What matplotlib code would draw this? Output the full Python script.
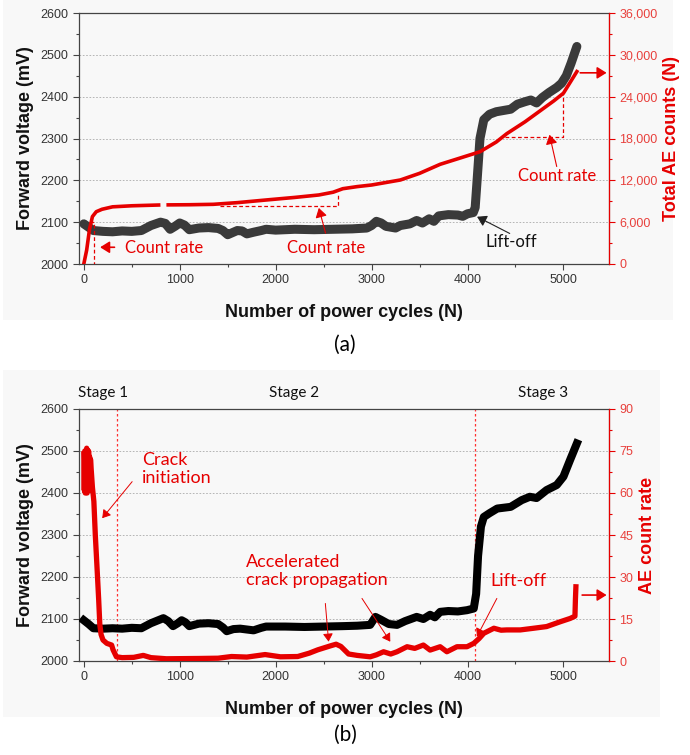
import numpy as np
import matplotlib
matplotlib.use('Agg')
import matplotlib.pyplot as plt
from matplotlib.patches import Rectangle
from matplotlib.ticker import MultipleLocator, FuncFormatter

plt.rcParams['font.family'] = ['Liberation Sans', 'DejaVu Sans']

##################
## data

# (a) forward voltage (mV) vs power cycles
cyc_vf_a = [0, 50, 100, 200, 300, 400, 500, 600, 700, 800, 850, 900, 950, 1000, 1050,
            1100, 1200, 1300, 1400, 1450, 1500, 1550, 1600, 1650, 1700, 1770, 1850, 1900,
            2000, 2200, 2400, 2600, 2800, 2950, 3000, 3050, 3100, 3150, 3250, 3300, 3400,
            3470, 3530, 3600, 3650, 3700, 3800, 3900, 3950, 4000, 4060, 4080, 4100, 4130,
            4170, 4230, 4300, 4400, 4450, 4520, 4600, 4660, 4720, 4780, 4850, 4930, 4980,
            5030, 5080, 5140]
vf_a = [2096, 2088, 2080, 2078, 2077, 2079, 2078, 2080, 2092, 2100, 2097, 2083, 2090, 2098, 2093,
        2082, 2086, 2087, 2085, 2080, 2070, 2075, 2080, 2079, 2072, 2076, 2080, 2083,
        2081, 2083, 2082, 2083, 2084, 2086, 2092, 2102, 2098, 2090, 2086, 2092, 2096,
        2104, 2098, 2108, 2102, 2115, 2118, 2117, 2114, 2120, 2123, 2135, 2200, 2300,
        2345, 2358, 2364, 2368, 2370, 2382, 2388, 2392, 2385, 2398, 2410, 2422, 2432,
        2450, 2480, 2520]

# (a) total AE counts (nan = gap in the record)
cyc_ae_a = [0, 30, 60, 90, 130, 190, 300, 500, 780, 790, 880, 1100, 1350, 1600, 1900, 2200,
            2450, 2600, 2700, 2850, 3000, 3300, 3500, 3715, 3900, 4130, 4300, 4410, 4600,
            4760, 4900, 5000, 5140]
ae_total = [0, 2000, 5000, 6800, 7500, 7850, 8200, 8350, 8460, np.nan, 8480, 8500, 8560, 8800,
            9180, 9550, 9900, 10300, 10800, 11100, 11330, 12050, 13000, 14300, 15100, 16100,
            17500, 18700, 20400, 22000, 23400, 24500, 27600]

# (b) forward voltage
cyc_vf_b = [0, 50, 100, 200, 300, 400, 500, 600, 700, 830, 880, 930, 980, 1020, 1060, 1100,
            1200, 1300, 1400, 1450, 1490, 1560, 1630, 1700, 1770, 1850, 1900, 2100, 2300,
            2500, 2700, 2850, 2985, 3040, 3100, 3180, 3265, 3350, 3470, 3540, 3610, 3660,
            3715, 3800, 3900, 3995, 4065, 4090, 4110, 4140, 4170, 4230, 4310, 4450, 4565,
            4650, 4720, 4825, 4930, 5000, 5070, 5140]
vf_b = [2097, 2088, 2078, 2077, 2078, 2077, 2079, 2078, 2090, 2102, 2095, 2083, 2090, 2097, 2092,
        2083, 2089, 2090, 2088, 2080, 2071, 2076, 2077, 2075, 2073, 2079, 2082, 2082, 2081,
        2082, 2083, 2084, 2086, 2105, 2098, 2088, 2086, 2095, 2105, 2100, 2110, 2104,
        2117, 2119, 2118, 2121, 2125, 2160, 2250, 2320, 2343, 2352, 2363, 2367, 2383,
        2391, 2388, 2407, 2419, 2439, 2479, 2518]

# (b) AE count rate
cyc_rate_b = [0, 5, 10, 15, 20, 25, 30, 35, 40, 45, 50, 55, 60, 65, 70, 90, 105, 120, 140, 155,
              167, 180, 200, 240, 290, 305, 340, 400, 520, 620, 700, 860, 1200, 1400, 1540,
              1700, 1890, 2050, 2230, 2350, 2440, 2570, 2630, 2680, 2760, 2850, 2985, 3050,
              3125, 3200, 3265, 3370, 3450, 3540, 3610, 3715, 3785, 3890, 3995, 4065, 4120,
              4170, 4275, 4350, 4410, 4550, 4690, 4825, 4965, 5070, 5120, 5125, 5130]
ae_rate = [74, 61, 75, 60, 73, 62, 76, 60, 74, 63, 75, 61, 73, 62, 72, 62, 57, 45, 32, 22,
           13, 9.5, 7.5, 6.3, 5.7, 4, 1.5, 1.2, 1.3, 2.0, 1.2, 0.8, 0.9, 1.0, 1.6,
           1.4, 2.3, 1.5, 1.6, 2.8, 4.0, 5.4, 6.0, 5.2, 2.5, 2.0, 1.5, 2.2,
           3.3, 2.5, 3.3, 5.1, 4.5, 5.7, 3.9, 5.1, 3.3, 5.1, 5.1, 6.3, 8.0,
           9.9, 11.7, 11.0, 11.1, 11.1, 11.7, 12.3, 14.0, 15.2, 16.0, 22, 26.5]

stage_lines = [350, 4080]

red = '#e60000'
tick_red = '#e8403c'
grey = '#333333'
note_font = ['Lato', 'DejaVu Sans']

fig = plt.figure(figsize=(6.9, 7.55), dpi=100)

# light panel backgrounds
fig.patches.append(Rectangle((3/690, 1 - 320/755), 670/690, 320/755, transform=fig.transFigure,
                             facecolor='#f8f8f8', edgecolor='none', zorder=-10))
fig.patches.append(Rectangle((3/690, 1 - 717/755), 657/690, 347/755, transform=fig.transFigure,
                             facecolor='#f8f8f8', edgecolor='none', zorder=-10))


def setup(ax, ax2, rlabel, rmax, rstep, fmt):
    ax.set_facecolor('none')
    ax.set_xlim(-50, 5475)
    ax.set_ylim(2000, 2600)
    ax.xaxis.set_major_locator(MultipleLocator(1000))
    ax.xaxis.set_minor_locator(MultipleLocator(500))
    ax.yaxis.set_major_locator(MultipleLocator(100))
    ax.yaxis.set_minor_locator(MultipleLocator(50))
    ax.tick_params(which='both', direction='out', colors='#444444', labelcolor=grey,
                   labelsize=9, width=0.8)
    ax.tick_params(which='major', length=4)
    ax.tick_params(which='minor', length=2.5)
    for y in range(2100, 2600, 100):
        ax.axhline(y, color='#aaaaaa', lw=0.6, ls=(0, (2, 2)), zorder=0)
    for s in ['left', 'bottom', 'top']:
        ax.spines[s].set_color('#444444')
        ax.spines[s].set_linewidth(0.9)
    ax.set_xlabel('Number of power cycles (N)', fontsize=13, fontweight='bold',
                  color='#111111', labelpad=13)
    ax.set_ylabel('Forward voltage (mV)', fontsize=13, fontweight='bold',
                  color='#111111', labelpad=5)

    ax2.set_ylim(0, rmax)
    ax2.yaxis.set_major_locator(MultipleLocator(rstep))
    ax2.yaxis.set_minor_locator(MultipleLocator(rstep / 2))
    ax2.yaxis.set_major_formatter(FuncFormatter(fmt))
    ax2.tick_params(which='both', direction='out', colors=red, labelcolor=tick_red,
                    labelsize=9, width=0.8)
    ax2.tick_params(which='major', length=4)
    ax2.tick_params(which='minor', length=2.5)
    ax2.spines['right'].set_color(red)
    ax2.spines['right'].set_linewidth(0.9)
    for s in ['left', 'bottom', 'top']:
        ax2.spines[s].set_visible(False)
    ax2.set_ylabel(rlabel, fontsize=13, fontweight='bold', color=red, labelpad=4)


def arrow(ax, start, end, color, lw=0.8, head=0.3):
    ax.annotate('', xy=end, xytext=start,
                arrowprops=dict(arrowstyle='-|>,head_length=%.2f,head_width=%.2f' % (head * 1.6, head),
                                color=color, lw=lw, shrinkA=0, shrinkB=0))


###################
## (a)
ax1 = fig.add_axes([79/690, 1 - 264/755, 530/690, 251/755])
ax1r = ax1.twinx()
setup(ax1, ax1r, 'Total AE counts (N)', 36000, 6000, lambda v, p: '{:,.0f}'.format(v))

ax1.plot(cyc_vf_a, vf_a, color='#3a3a3a', lw=6.5, solid_joinstyle='round',
         solid_capstyle='round', zorder=3)
ax1r.plot(cyc_ae_a, ae_total, color=red, lw=2.6, zorder=2)

ax1.plot([60, 104, 104], [2101, 2101, 2000], color=red, lw=0.9, ls=(0, (3, 2)), zorder=4)
ax1.plot([1425, 2655, 2655], [2139.5, 2139.5, 2165], color=red, lw=0.9, ls=(0, (3, 2)), zorder=4)
ax1.plot([4390, 5000, 5000], [2303, 2303, 2408], color=red, lw=0.9, ls=(0, (3, 2)), zorder=4)

arrow(ax1, (320, 2040), (170, 2040), red, lw=1.2, head=0.35)
ax1.text(425, 2038, 'Count rate', color=red, fontsize=12, family=note_font, va='center', ha='left')
arrow(ax1, (2520, 2074), (2450, 2134), red, lw=0.8, head=0.35)
ax1.text(2530, 2038, 'Count rate', color=red, fontsize=12, family=note_font, va='center', ha='center')
arrow(ax1, (4930, 2233), (4855, 2309), red, lw=0.8, head=0.35)
ax1.text(4930, 2210, 'Count rate', color=red, fontsize=12, family=note_font, va='center', ha='center')
arrow(ax1, (4440, 2073), (4100, 2113), '#222222', lw=0.8, head=0.35)
ax1.text(4460, 2053, 'Lift-off', color='#111111', fontsize=12, family=note_font, va='center', ha='center')
arrow(ax1, (5175, 2457), (5450, 2457), red, lw=1.2, head=0.35)

fig.text(0.5, 1 - 345/755, '(a)', fontsize=15, family=note_font, ha='center', va='center')

###################
## (b)
ax2 = fig.add_axes([79/690, 1 - 661/755, 530/690, 252/755])
ax2r = ax2.twinx()
setup(ax2, ax2r, 'AE count rate', 90, 15, lambda v, p: '%d' % v)

ax2.plot(cyc_vf_b, vf_b, color='black', lw=5.8, solid_joinstyle='round', zorder=3)
ax2r.plot(cyc_rate_b, ae_rate, color=red, lw=3.8, solid_joinstyle='round')
for xv in stage_lines:
    ax2.axvline(xv, color='#ff3030', lw=0.9, ls=(0, (2, 2)), zorder=1)

ax2.text(608, 2457, 'Crack\ninitiation', color=red, fontsize=13, family=note_font,
         va='center', ha='left', linespacing=1.15)
arrow(ax2, (504, 2427), (192, 2340), red, lw=0.7, head=0.3)
ax2.text(1695, 2215, 'Accelerated\ncrack propagation', color=red, fontsize=13, family=note_font,
         va='center', ha='left', linespacing=1.15)
arrow(ax2, (2518, 2137), (2552, 2046), red, lw=0.7, head=0.3)
arrow(ax2, (2900, 2149), (3195, 2046), red, lw=0.7, head=0.3)
ax2.text(4530, 2191, 'Lift-off', color=red, fontsize=13, family=note_font, va='center', ha='center')
arrow(ax2, (4306, 2149), (4098, 2058), red, lw=0.7, head=0.3)
arrow(ax2, (5195, 2157), (5450, 2157), red, lw=1.2, head=0.35)

for xs, label in zip([103, 294, 543], ['Stage 1', 'Stage 2', 'Stage 3']):
    fig.text(xs/690, 1 - 393/755, label, fontsize=11, family=note_font, ha='center', va='center',
             color='#111111')

fig.text(0.5, 1 - 735/755, '(b)', fontsize=15, family=note_font, ha='center', va='center')

plt.savefig('out.png', dpi=100)
